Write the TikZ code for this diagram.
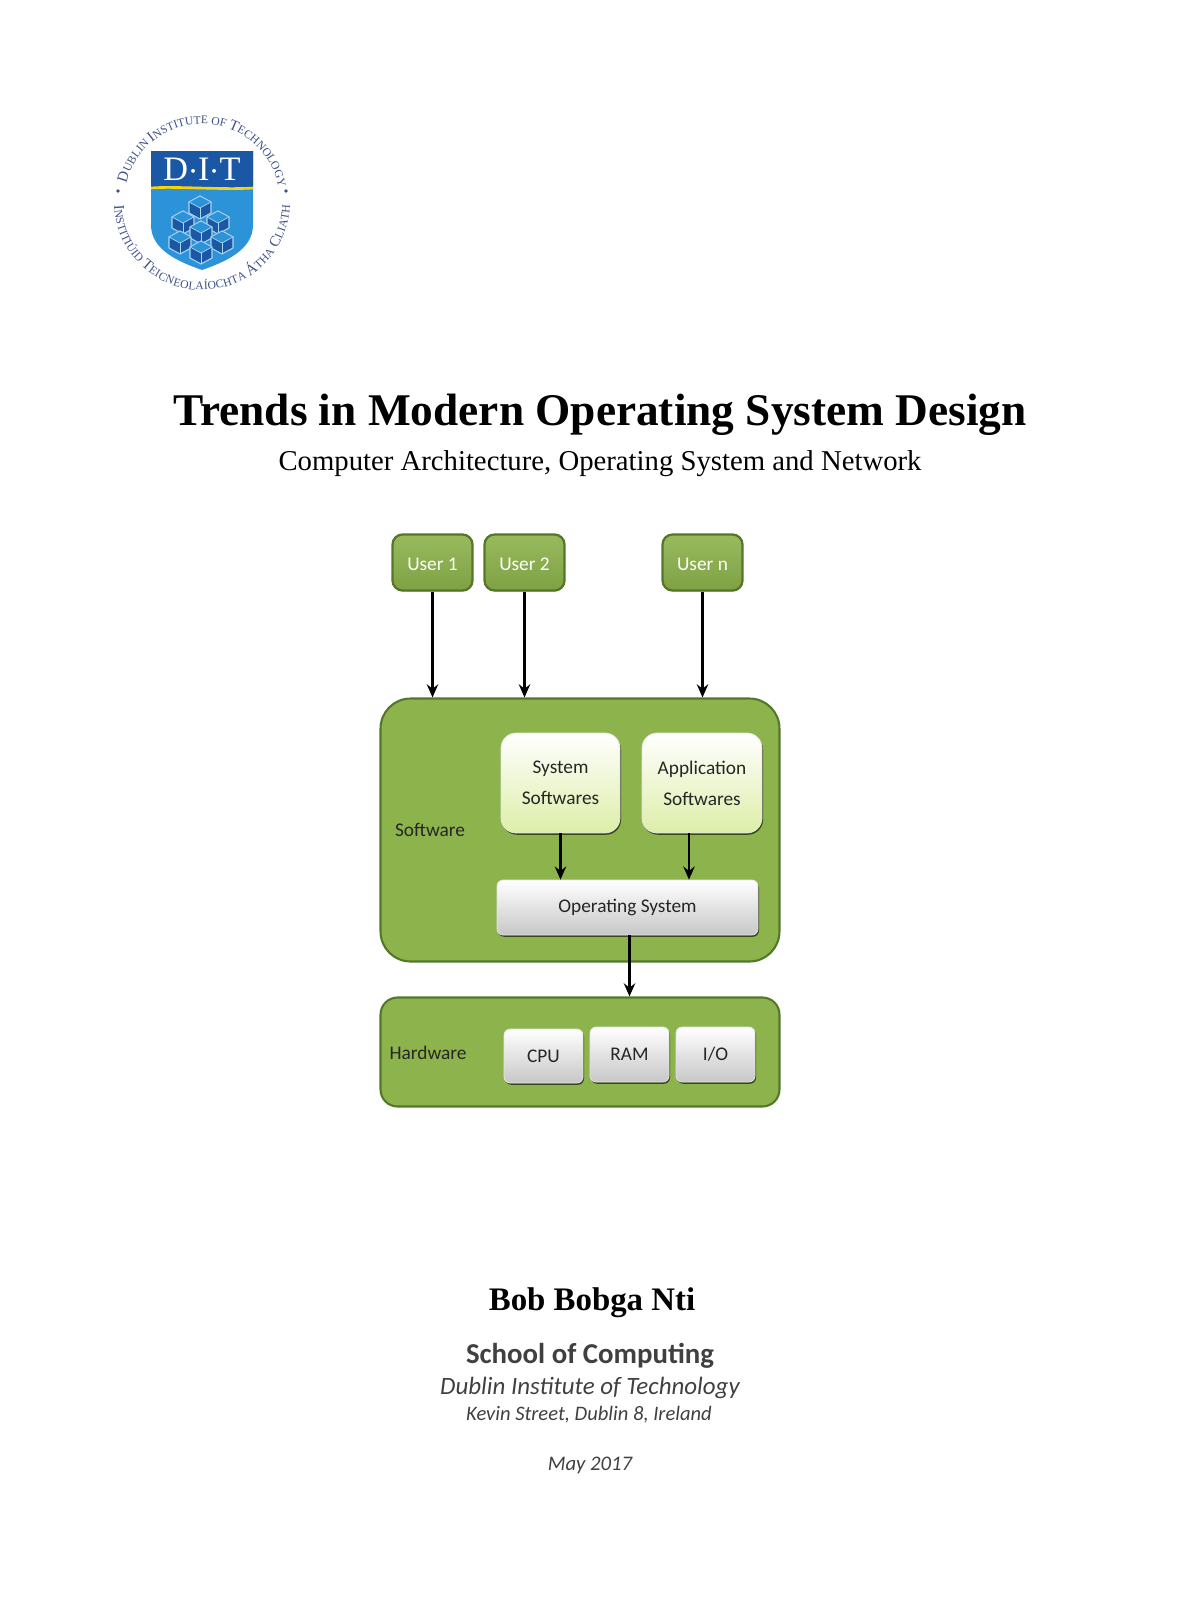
\documentclass[tikz,border=0pt]{standalone}
\usepackage{fontspec}
\usepackage{tikz}
\usetikzlibrary{calc,shadows,arrows.meta,decorations.text}
\setmainfont{Liberation Serif}
\newfontfamily\boxfont{Carlito}
\newcommand{\logobig}{\fontsize{8.5}{8.5}\selectfont}
\newcommand{\logosmall}{\fontsize{6.6}{6.6}\selectfont}
\definecolor{dkgreen}{HTML}{55772A}
\definecolor{midgreen}{HTML}{8DB34C}
\definecolor{softgreen}{HTML}{DDEEA8}
\definecolor{logoblue}{HTML}{1A57A4}
\definecolor{skyblue}{HTML}{2C93D8}
\definecolor{ringblue}{HTML}{3E5088}

\begin{document}
\begin{tikzpicture}[x=0.02cm,y=-0.02cm]
        \tikzstyle{user}=[draw=dkgreen, line width=1.3pt, rounded corners=0.2cm, top color=midgreen!90!white, bottom color=midgreen!90!black, text=white, minimum width=1.6cm, minimum height=1.12cm, font=\boxfont\fontsize{11}{13}\selectfont, inner sep=0pt, text height=9.2pt, text depth=0pt, drop shadow={shadow xshift=0.3pt,shadow yshift=-0.6pt,fill=black,opacity=0.3}]
        \tikzstyle{panel}=[draw=dkgreen, line width=1.2pt, fill=midgreen, minimum width=7.98cm, inner sep=0pt]
        \tikzstyle{softbox}=[rounded corners=0.3cm, top color=white, bottom color=softgreen, draw=black!10, minimum height=2cm, align=center, inner sep=0pt, font=\boxfont\fontsize{11}{17.5}\selectfont, text=black!85, drop shadow={shadow xshift=0.6pt,shadow yshift=-1pt,fill=black,opacity=0.6}]
        \tikzstyle{grey}=[rounded corners=0.12cm, top color=white, bottom color=black!22, draw=black!10, inner sep=0pt, font=\boxfont\fontsize{11}{13}\selectfont, text=black!85, drop shadow={shadow xshift=0.6pt,shadow yshift=-1pt,fill=black,opacity=0.6}]
        \tikzstyle{tag}=[font=\boxfont\fontsize{11}{13}\selectfont, text=black!85, inner sep=0pt]
        \tikzstyle{arrow}=[line width=1.6pt, -{Stealth[length=7.5pt,width=6.5pt,inset=2.5pt]}]

        \useasboundingbox (0,0) rectangle (1200,1602);

        % logo
        \fill[skyblue] (151,151) -- (253,151) -- (253,225) .. controls (253,250) and (225,262) .. (202,270) .. controls (179,262) and (151,250) .. (151,225) -- cycle;
        \fill[logoblue] (151,151) -- (253,151) -- (253,188) .. controls (223,190) and (173,186) .. (151,188) -- cycle;
        \draw[line width=1.5pt, color=yellow!70!orange] (151,188) .. controls (173,186) and (223,190) .. (253,188);
        \node (dit) at (202,169) {\color{white}\fontsize{19.5}{19.5}\selectfont D$\cdot$I$\cdot$T};
        \foreach \cx/\cy in {200/207, 183/222, 218/222, 201/232, 180/242, 222/242, 201/252} {
            \filldraw[draw=white!60!skyblue, fill=logoblue, line width=0.6pt] (\cx,\cy-11) -- ++(11,6) -- ++(0,11) -- ++(-11,6) -- ++(-11,-6) -- ++(0,-11) -- cycle;
            \filldraw[draw=white!60!skyblue, fill=skyblue, line width=0.4pt] (\cx,\cy-11) -- ++(11,6) -- ++(-11,6) -- ++(-11,-6) -- cycle;
            \draw[white!60!skyblue, line width=0.4pt] (\cx,\cy+1) -- (\cx,\cy+12);
        }
        \path[decorate, decoration={text along path, text align={fit to path}, text color=ringblue, text={|\logobig|D|||\logosmall|UBLIN |||\logobig|I|||\logosmall|NSTITUTE OF |||\logobig|T|||\logosmall|ECHNOLOGY||}}] (202,202) ++(-166:78) arc[start angle=-166, end angle=-13, radius=78];
        \path[decorate, decoration={text along path, text align={fit to path}, text color=ringblue, text={|\logobig|I|||\logosmall|NSTITIÚID |||\logobig|T|||\logosmall|EICNEOLAÍOCHTA |||\logobig|Á|||\logosmall|THA |||\logobig|C|||\logosmall|LIATH||}}] (202,202) ++(178:88) arc[start angle=178, end angle=2, radius=88];
        \fill[ringblue] (118,191) circle(1.8) (286,191) circle(1.8);

        % headings
        \node (title) at (600,415) {\bfseries\fontsize{25.8}{30}\selectfont Trends in Modern Operating System Design};
        \node (subtitle) at (600,464) {\fontsize{16.35}{19}\selectfont Computer Architecture, Operating System and Network};

        % software block
        \node[panel, rounded corners=0.6cm, minimum height=5.26cm] (software) at (580,830) {};
        \node[tag] (softlabel) at (430,830) {Software};
        \node[softbox, minimum width=2.38cm] (syssoft) at (560.5,783) {System\\Softwares};
        \node[softbox, minimum width=2.4cm] (appsoft) at (702,783) {Application\\Softwares};
        \node[grey, minimum width=5.22cm, minimum height=1.1cm] (os) at (627.5,907.5) {Operating System};

        % hardware block
        \node[panel, rounded corners=0.34cm, minimum height=2.18cm] (hardware) at (580,1052) {};
        \node[tag] (hardlabel) at (428,1053) {Hardware};
        \node[grey, minimum width=1.58cm, minimum height=1.08cm] (cpu) at (543.5,1056) {CPU};
        \node[grey, minimum width=1.58cm, minimum height=1.1cm] (ram) at (629.5,1054.5) {RAM};
        \node[grey, minimum width=1.58cm, minimum height=1.1cm] (io) at (715.5,1054.5) {I/O};

        % users
        \node[user] (user1) at (432.5,562.5) {User 1};
        \node[user] (user2) at (524.5,562.5) {User 2};
        \node[user] (usern) at (702.5,562.5) {User n};

        \draw[arrow] (user1) -- (user1 |- software.north);
        \draw[arrow] (user2) -- (user2 |- software.north);
        \draw[arrow] (usern) -- (usern |- software.north);
        \draw[arrow] (syssoft) -- (syssoft |- os.north);
        \draw[arrow] ([xshift=-0.26cm]appsoft.south) -- ([xshift=-0.26cm]appsoft.south |- os.north);
        \draw[arrow] ([xshift=0.04cm]os.south) -- ([xshift=0.04cm]os.south |- hardware.north);

        % author block
        \node (author) at (592,1303) {\bfseries\fontsize{18.7}{22}\selectfont Bob Bobga Nti};
        \node[text=black!75] (school) at (590,1356) {\boxfont\bfseries\fontsize{16.4}{19}\selectfont School of Computing};
        \node[text=black!75] (dublin) at (590,1388) {\boxfont\itshape\fontsize{14.2}{17}\selectfont Dublin Institute of Technology};
        \node[text=black!75] (street) at (589,1415) {\boxfont\itshape\fontsize{11.7}{14}\selectfont Kevin Street, Dublin 8, Ireland};
        \node[text=black!75] (date) at (590,1465) {\boxfont\itshape\fontsize{11.8}{14}\selectfont May 2017};
\end{tikzpicture}
\end{document}
